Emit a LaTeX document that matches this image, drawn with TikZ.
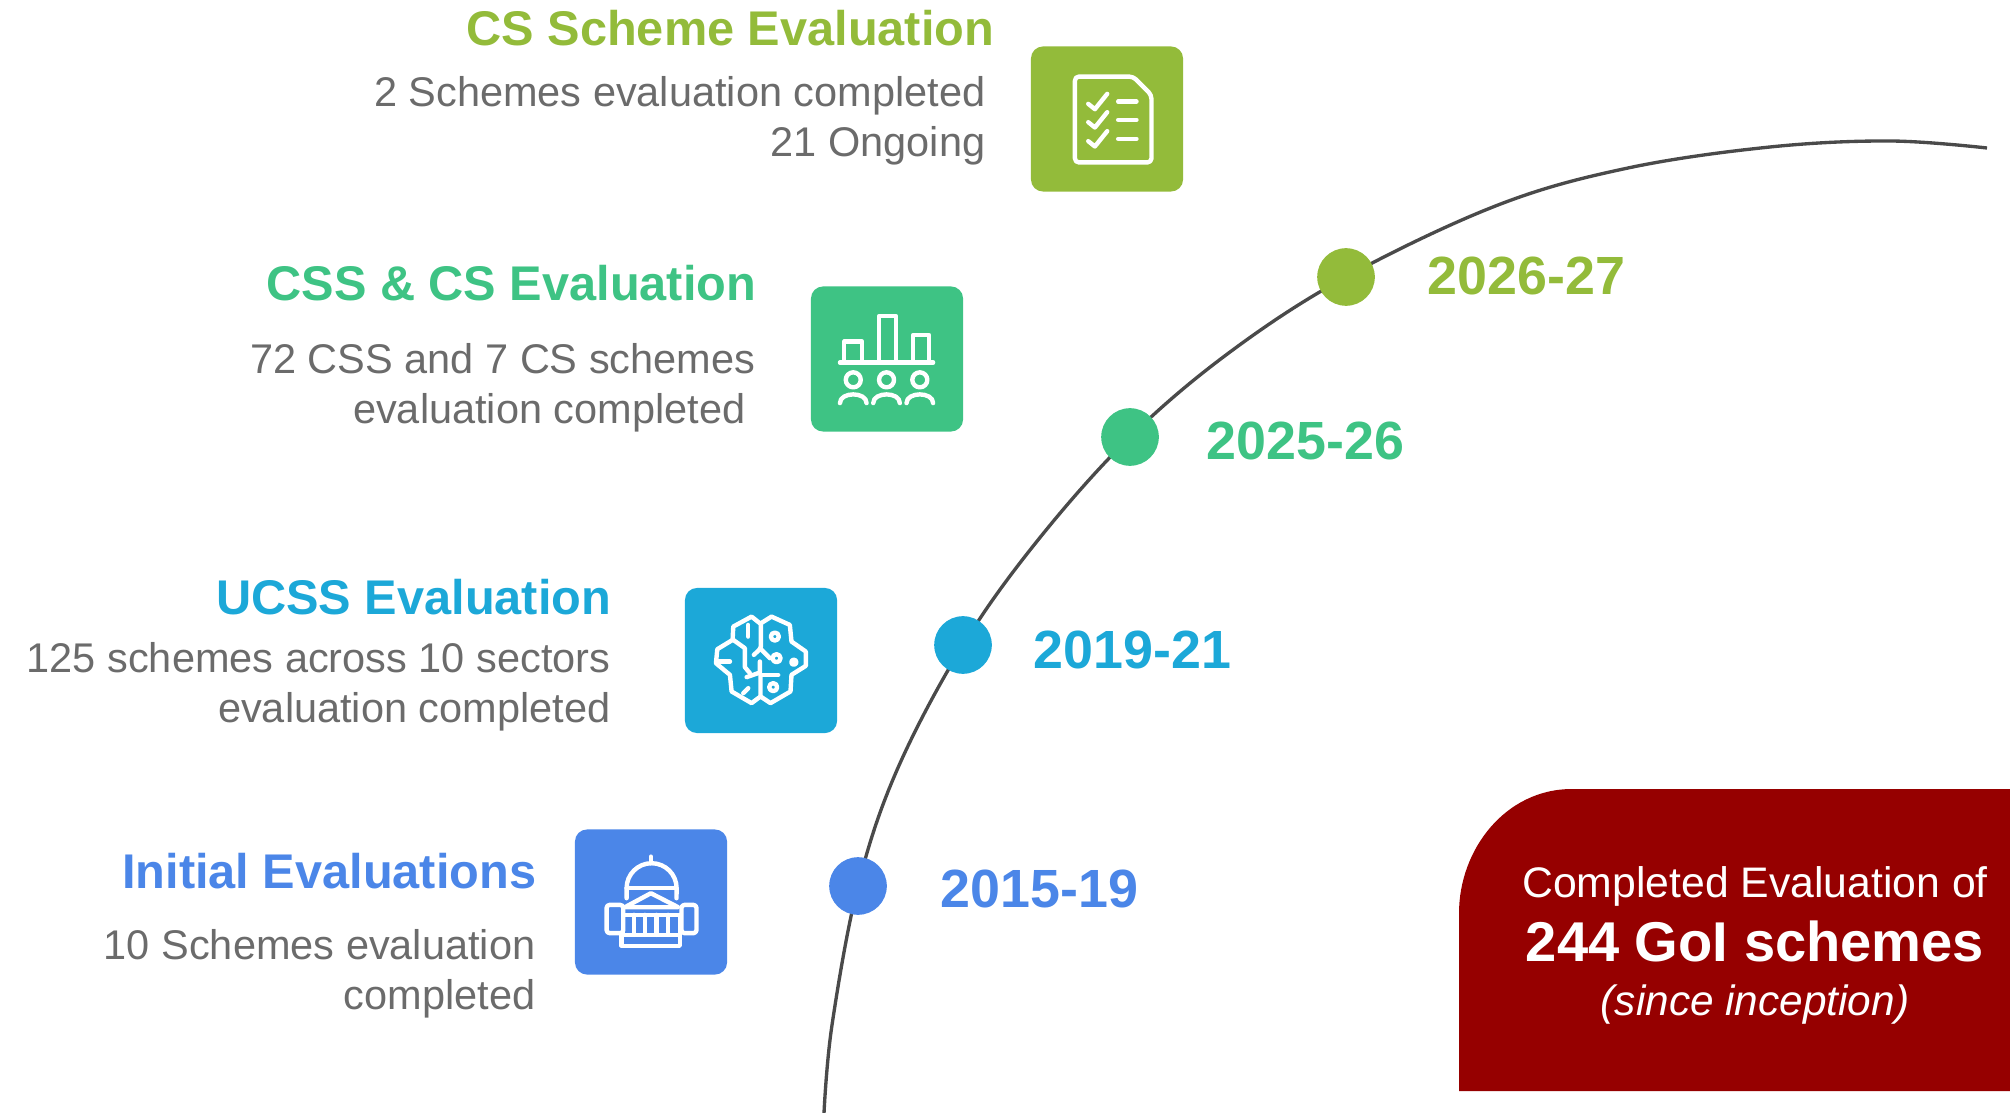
\documentclass[tikz,border=0pt]{standalone}
\usepackage{fontspec}
\setmainfont{Liberation Sans}
\usetikzlibrary{backgrounds}
\definecolor{olivegrn}{HTML}{93BB3A}
\definecolor{mintgrn}{HTML}{3EC384}
\definecolor{skyblu}{HTML}{1CA8D8}
\definecolor{royalblu}{HTML}{4B86E8}
\definecolor{darkred}{HTML}{960000}
\definecolor{bodygray}{HTML}{6B6B6B}
\definecolor{curvegray}{HTML}{4A4A4A}
\begin{document}
\begin{tikzpicture}[x=0.01cm, y=-0.01cm,
    title/.style={anchor=base east, inner sep=0pt, font=\fontsize{13.85}{16}\selectfont\bfseries},
    body/.style={anchor=base east, inner sep=0pt, text=bodygray, font=\fontsize{11.8}{14}\selectfont},
    year/.style={anchor=base west, inner sep=0pt, font=\fontsize{15.3}{18}\selectfont\bfseries},
    dot/.style={fill=#1, circle, inner sep=0pt, minimum size=1.6cm*0.36},
    iconbox/.style={fill=#1, rounded corners=0.12cm, inner sep=0pt, minimum width=1.52cm, minimum height=1.45cm},
    icon/.style={white, line width=1.25pt, line join=round, line cap=round},
    boxtext/.style={inner sep=0pt, text=white, anchor=base}]

    \useasboundingbox (0,0) rectangle (2010,1113);

    \node[dot=olivegrn] (d4) at (1346,277) {};
    \node[dot=mintgrn] (d3) at (1130,437) {};
    \node[dot=skyblu] (d2) at (963,645) {};
    \node[dot=royalblu] (d1) at (858,886) {};
    \coordinate (cstart) at (824,1113);
    \coordinate (cend) at (1987,148);
    \begin{scope}[on background layer]
      \draw[curvegray, line width=0.95pt] plot[smooth, tension=0.6] coordinates {(cstart) (832,1025) (d1.center) (897,770) (d2.center) (1038,540) (d3.center) (1230,352) (d4.center) (1498,205) (1628,168) (1770,147) (1890,141) (cend)};
    \end{scope}

    \node[year, text=olivegrn] (y4) at (1427,295) {2026-27};
    \node[year, text=mintgrn] (y3) at (1206,460) {2025-26};
    \node[year, text=skyblu] (y2) at (1033,668) {2019-21};
    \node[year, text=royalblu] (y1) at (940,907) {2015-19};

    \node[title, text=olivegrn] (t4) at (995,46) {CS Scheme Evaluation};
    \node[body] (b4a) at (986,107) {2 Schemes evaluation completed};
    \node[body] (b4b) at (986,157) {21 Ongoing};
    \node[title, text=mintgrn] (t3) at (757,301) {CSS \& CS Evaluation};
    \node[body] (b3a) at (756,374) {72 CSS and 7 CS schemes};
    \node[body] (b3b) at (746,424) {evaluation completed};
    \node[title, text=skyblu] (t2) at (612,614) {UCSS Evaluation};
    \node[body] (b2a) at (611,672) {125 schemes across 10 sectors};
    \node[body] (b2b) at (611,722) {evaluation completed};
    \node[title, text=royalblu] (t1) at (537,888) {Initial Evaluations};
    \node[body] (b1a) at (536,959) {10 Schemes evaluation};
    \node[body] (b1b) at (536,1009) {completed};

    \node[iconbox=olivegrn] (i4) at (1107,119) {};
    \node[iconbox=mintgrn] (i3) at (887,359) {};
    \node[iconbox=skyblu] (i2) at (761,660.5) {};
    \node[iconbox=royalblu] (i1) at (651,902) {};

    \begin{scope}[shift={(1020,30)}, x=0.00333cm, y=-0.00333cm, icon]
      \draw[rounded corners=0.04cm] (165,140) -- (340,140) -- (395,195) -- (395,398) -- (165,398) -- cycle;
      \foreach \ypos in {0,55,112} {
        \draw (205,222+\ypos) -- (225,238+\ypos) -- (262,192+\ypos);
        \draw (295,215+\ypos) -- (350,215+\ypos);
      }
    \end{scope}

    \begin{scope}[shift={(800,280)}, x=0.00333cm, y=-0.00333cm, icon]
      \draw (120,248) -- (400,248);
      \draw (133,248) -- (133,185) -- (187,185) -- (187,248);
      \draw (238,248) -- (238,108) -- (288,108) -- (288,248);
      \draw (340,248) -- (340,165) -- (388,165) -- (388,248);
      \foreach \xpos in {160,260,360} {
        \draw (\xpos,300) circle (0.075cm);
        \draw (\xpos-40,370) .. controls (\xpos-40,335) and (\xpos+40,335) .. (\xpos+40,370);
      }
    \end{scope}

    \begin{scope}[shift={(680,580)}, x=0.00333cm, y=-0.00333cm, icon]
      \draw (240,130) -- (215,110) -- (160,140) -- (158,180) -- (112,208) -- (108,250) -- (150,285) -- (155,335) -- (215,370) -- (242,350) -- (242,285);
      \draw (243,200) -- (243,130) -- (275,110) -- (330,135) -- (335,185) -- (378,215) -- (378,258) -- (335,285) -- (332,335) -- (272,370) -- (242,350);
      \draw (205,135) -- (205,170);
      \draw (160,180) -- (195,205) -- (195,262) -- (210,280);
      \draw (115,245) -- (150,245);
      \draw (243,205) -- (222,225);
      \draw (240,205) -- (270,235);
      \draw (240,245) -- (240,278) -- (200,292);
      \draw (245,285) -- (295,285);
      \draw (190,340) -- (205,325);
      \draw (285,170) circle (0.04cm);
      \draw (290,235) circle (0.04cm);
      \draw (280,322) circle (0.04cm);
      \draw[fill=white] (342,247) circle (0.025cm);
    \end{scope}

    \begin{scope}[shift={(570,820)}, x=0.00333cm, y=-0.00333cm, icon]
      \draw (243,110) -- (243,130);
      \draw (170,235) -- (170,205) arc[start angle=180, end angle=0, radius=0.25cm] -- (320,235);
      \draw (170,205) -- (320,205);
      \draw (165,262) -- (243,220) -- (325,262) -- cycle;
      \draw[rounded corners=0.03cm] (110,255) rectangle (160,340);
      \draw[rounded corners=0.03cm] (335,255) rectangle (380,340);
      \foreach \xpos in {160,192,225,260,295,330} {
        \draw (\xpos,285) -- (\xpos,345);
      }
      \draw (160,285) -- (330,285);
      \draw (160,345) -- (330,345);
      \draw (155,345) rectangle (330,378);
    \end{scope}

    \fill[darkred] (2010,789) -- (1572,789) .. controls (1505,789) and (1459,850) .. (1459,913) -- (1459,1091) -- (2010,1091) -- cycle;
    \node[boxtext, font=\fontsize{12.15}{15}\selectfont] (r1) at (1755,897) {Completed Evaluation of};
    \node[boxtext, font=\fontsize{15.95}{18}\selectfont\bfseries] (r2) at (1755,961) {244 GoI schemes};
    \node[boxtext, font=\fontsize{12.05}{15}\selectfont\itshape] (r3) at (1755,1015) {(since inception)};

\end{tikzpicture}
\end{document}
